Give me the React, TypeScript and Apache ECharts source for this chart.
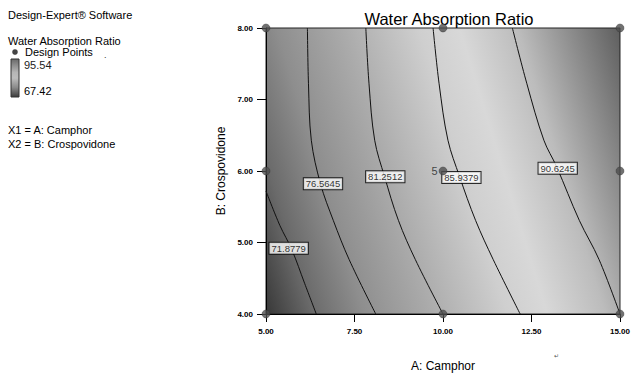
import React, { useEffect, useRef } from "react";
import * as echarts from "echarts";

// ---- data ----
const xTicks = [5, 7.5, 10, 12.5, 15];
const yTicks = [4, 5, 6, 7, 8];
const designPoints: [number, number][] = [
  [5, 4], [10, 4], [15, 4],
  [5, 6], [10, 6], [15, 6],
  [5, 8], [10, 8], [15, 8],
];
const centerReplicates = 5;

const contourLevels = [71.8779, 76.5645, 81.2512, 85.9379, 90.6245];

const contour71: [number, number][] = [
  [5.0, 5.72], [5.39, 5.24], [5.73, 4.9], [6.09, 4.43], [6.42, 4.0],
];
const contour76: [number, number][] = [
  [6.17, 8.0], [6.2, 7.22], [6.28, 6.43], [6.54, 5.82], [6.9, 5.31], [7.35, 4.76], [8.1, 4.0],
];
const contour81: [number, number][] = [
  [7.82, 8.0], [7.91, 7.22], [8.07, 6.43], [8.35, 5.92], [8.74, 5.31], [9.22, 4.76], [10.0, 4.0],
];
const contour85: [number, number][] = [
  [9.72, 8.0], [9.89, 7.22], [10.14, 6.43], [10.47, 5.92], [10.92, 5.31], [11.42, 4.76], [12.18, 4.0],
];
const contour90: [number, number][] = [
  [11.96, 8.0], [12.37, 7.22], [12.85, 6.43], [13.21, 6.06], [13.85, 5.31], [14.41, 4.76], [15.0, 4.0],
];
const contourLines = [contour71, contour76, contour81, contour85, contour90];

const labelPositions: [number, number][] = [
  [5.64, 4.92], [6.61, 5.82], [8.37, 5.92], [10.52, 5.91], [13.24, 6.04],
];

const legendMax = 95.54;
const legendMin = 67.42;

const FONT = '"Liberation Sans", Arial, Helvetica, sans-serif';

export default function App() {
  const ref = useRef<HTMLDivElement>(null);

  useEffect(() => {
    document.body.style.margin = "0";
    if (!ref.current) return;
    const chart = echarts.init(ref.current, null, { renderer: "svg" });

    const bg = {
      type: "linear",
      x: 266,
      y: 314,
      x2: 674,
      y2: 188.5,
      global: true,
      colorStops: [
        { offset: 0, color: "#383838" },
        { offset: 0.105, color: "#6a6a6a" },
        { offset: 0.22, color: "#8e8e8e" },
        { offset: 0.37, color: "#ababab" },
        { offset: 0.54, color: "#cfcfcf" },
        { offset: 0.63, color: "#d8d8d8" },
        { offset: 0.76, color: "#bcbcbc" },
        { offset: 1, color: "#5a5a5a" },
      ],
    };

    const lineSeries = contourLines.map((pts, i) => ({
      type: "line",
      name: String(contourLevels[i]),
      data: pts,
      smooth: 0.35,
      symbol: "none",
      lineStyle: { color: "#111", width: 1 },
      z: 3,
      silent: true,
    }));

    const txt = (text: string, x: number, y: number, size = 11, fill = "#000") => ({
      type: "text",
      x,
      y,
      style: { text, fontSize: size, fontFamily: FONT, fill, verticalAlign: "middle" },
    });

    const option: any = {
      animation: false,
      title: {
        text: "Water Absorption Ratio",
        left: 444,
        top: 5,
        textAlign: "center",
        textStyle: { fontSize: 16.5, fontWeight: "normal", color: "#000", fontFamily: FONT },
      },
      grid: {
        left: 266,
        top: 28,
        right: 9,
        bottom: 65,
        show: true,
        backgroundColor: bg,
        borderColor: "#222",
        borderWidth: 1,
      },
      xAxis: {
        type: "value",
        min: xTicks[0],
        max: xTicks[xTicks.length - 1],
        interval: 2.5,
        name: "A: Camphor",
        nameLocation: "middle",
        nameGap: 46,
        nameTextStyle: { fontSize: 12, color: "#000", fontFamily: FONT },
        axisLine: { lineStyle: { color: "#000", width: 1 } },
        axisTick: { show: true, length: 8, lineStyle: { color: "#000" } },
        axisLabel: {
          formatter: (v: number) => v.toFixed(2),
          fontSize: 8,
          fontWeight: "bold",
          color: "#000",
          margin: 13,
          fontFamily: FONT,
        },
        splitLine: { show: false },
      },
      yAxis: {
        type: "value",
        min: yTicks[0],
        max: yTicks[yTicks.length - 1],
        interval: 1,
        name: "B: Crospovidone",
        nameLocation: "middle",
        nameGap: 30,
        nameTextStyle: { fontSize: 12, color: "#000", fontFamily: FONT },
        axisLine: { show: true, lineStyle: { color: "#000", width: 1 } },
        axisTick: { show: true, length: 9, lineStyle: { color: "#000" } },
        axisLabel: {
          formatter: (v: number) => v.toFixed(2),
          fontSize: 8,
          fontWeight: "bold",
          color: "#000",
          margin: 13,
          fontFamily: FONT,
        },
        splitLine: { show: false },
      },
      series: [
        ...lineSeries,
        {
          type: "scatter",
          name: "labels",
          data: labelPositions.map((p, i) => ({
            value: p,
            label: { show: true, formatter: String(contourLevels[i]) },
          })),
          symbol: "rect",
          symbolSize: 1,
          itemStyle: { color: "rgba(0,0,0,0)" },
          label: {
            show: true,
            position: "inside",
            fontSize: 9.5,
            color: "#000",
            fontFamily: FONT,
            backgroundColor: "#fff",
            borderColor: "#000",
            borderWidth: 1,
            padding: [1, 2, 0, 2],
          },
          z: 5,
          silent: true,
        },
        {
          type: "scatter",
          name: "Design Points",
          data: designPoints.map((p) =>
            p[0] === 10 && p[1] === 6
              ? {
                  value: p,
                  label: {
                    show: true,
                    formatter: String(centerReplicates),
                    position: "left",
                    distance: 1,
                    fontSize: 11,
                    color: "#222",
                    fontFamily: FONT,
                  },
                }
              : { value: p }
          ),
          symbol: "circle",
          symbolSize: 8,
          itemStyle: { color: "#4d4d4d", borderColor: "#333", borderWidth: 0.5 },
          clip: false,
          z: 6,
          silent: true,
        },
      ],
      graphic: [
        txt("Design-Expert® Software", 8, 15),
        txt("Water Absorption Ratio", 8, 41),
        { type: "circle", shape: { cx: 15, cy: 52, r: 2.8 }, style: { fill: "#444" } },
        txt("Design Points", 25, 52),
        txt(".", 104, 55, 9, "#333"),
        {
          type: "rect",
          shape: { x: 11, y: 59, width: 8, height: 38 },
          style: {
            fill: {
              type: "linear",
              x: 0,
              y: 0,
              x2: 0,
              y2: 1,
              colorStops: [
                { offset: 0, color: "#6a6a6a" },
                { offset: 0.35, color: "#b5b5b5" },
                { offset: 0.5, color: "#bdbdbd" },
                { offset: 0.75, color: "#8a8a8a" },
                { offset: 1, color: "#3c3c3c" },
              ],
            },
            stroke: "#333",
            lineWidth: 1,
          },
        },
        txt(legendMax.toFixed(2), 24, 65, 11, "#222"),
        txt(legendMin.toFixed(2), 24, 91),
        txt("X1 = A: Camphor", 8, 130),
        txt("X2 = B: Crospovidone", 8, 144),
        txt("↵", 554, 356, 6, "#555"),
      ],
    };

    chart.setOption(option);
    return () => chart.dispose();
  }, []);

  return <div ref={ref} style={{ width: 633, height: 379 }} />;
}
